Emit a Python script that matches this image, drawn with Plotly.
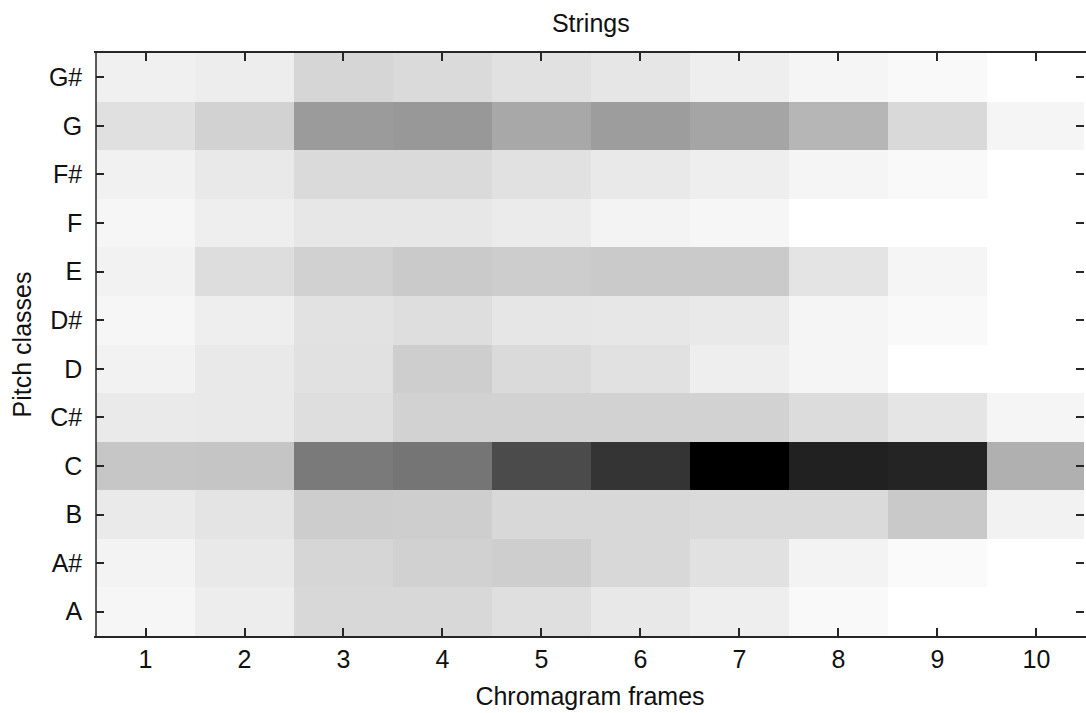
import plotly.graph_objects as go

frames = [1, 2, 3, 4, 5, 6, 7, 8, 9, 10]
pitch_classes = ["A", "A#", "B", "C", "C#", "D", "D#", "E", "F", "F#", "G", "G#"]

# Chroma energy per pitch class (0 = white, 255 = black)
A_vals  = [9, 18, 39, 39, 32, 23, 17, 6, 0, 0]
As_vals = [12, 22, 41, 46, 49, 39, 30, 12, 5, 0]
B_vals  = [21, 27, 50, 49, 39, 39, 37, 37, 54, 13]
C_vals  = [57, 58, 133, 138, 180, 203, 255, 222, 219, 79]
Cs_vals = [21, 22, 33, 45, 45, 45, 45, 35, 26, 10]
D_vals  = [13, 22, 30, 49, 37, 30, 17, 10, 0, 0]
Ds_vals = [9, 17, 29, 33, 25, 24, 22, 10, 6, 0]
E_vals  = [13, 34, 46, 53, 50, 53, 53, 27, 10, 0]
F_vals  = [9, 17, 24, 24, 20, 12, 9, 0, 0, 0]
Fs_vals = [14, 22, 37, 37, 30, 22, 17, 10, 6, 0]
G_vals  = [31, 45, 100, 103, 87, 98, 90, 73, 38, 10]
Gs_vals = [15, 18, 41, 37, 30, 25, 17, 10, 6, 0]

z = [A_vals, As_vals, B_vals, C_vals, Cs_vals, D_vals, Ds_vals,
     E_vals, F_vals, Fs_vals, G_vals, Gs_vals]

FONT = "Liberation Sans, Arial, sans-serif"
FS = 25
AX = "#262626"

fig = go.Figure(
    go.Heatmap(
        x=frames,
        y=pitch_classes,
        z=z,
        zmin=0,
        zmax=255,
        colorscale=[[0, "#ffffff"], [1, "#000000"]],
        showscale=False,
        hoverinfo="x+y+z",
    )
)

fig.update_layout(
    width=1086,
    height=713,
    margin=dict(l=96, r=0, t=53, b=77),
    paper_bgcolor="white",
    plot_bgcolor="white",
    font=dict(family=FONT, size=FS, color="#111111"),
    title=dict(text="Strings", x=0.544, xanchor="center", y=0.968, yanchor="middle",
               font=dict(family=FONT, size=FS, color="#111111")),
    shapes=[
        # left frame line (right frame edge lies just outside the visible area)
        dict(type="line", xref="paper", yref="paper", x0=0, x1=0, y0=0, y1=1,
             line=dict(color=AX, width=1.5), layer="above"),
    ],
)

fig.update_xaxes(
    tickmode="array",
    tickvals=frames,
    ticktext=[str(f) for f in frames],
    range=[0.5, 10.48],
    ticks="inside",
    ticklen=8,
    tickwidth=1.5,
    tickcolor=AX,
    showline=True,
    linecolor=AX,
    linewidth=1.5,
    mirror="ticks",
    showgrid=False,
    zeroline=False,
    tickfont=dict(family=FONT, size=FS),
    title=dict(text="Chromagram frames", font=dict(family=FONT, size=FS), standoff=16),
)

fig.update_yaxes(
    type="category",
    ticks="inside",
    ticklen=8,
    tickwidth=1.5,
    tickcolor=AX,
    showline=True,
    linecolor="rgba(0,0,0,0)",
    linewidth=1.5,
    mirror="ticks",
    showgrid=False,
    zeroline=False,
    ticklabelstandoff=7,
    tickfont=dict(family=FONT, size=FS),
    title=dict(text="Pitch classes", font=dict(family=FONT, size=FS), standoff=10),
)

fig.write_html(
    "out.html",
    config={"displayModeBar": False},
    post_script="document.body.style.margin='0';document.body.style.overflow='hidden';",
)
